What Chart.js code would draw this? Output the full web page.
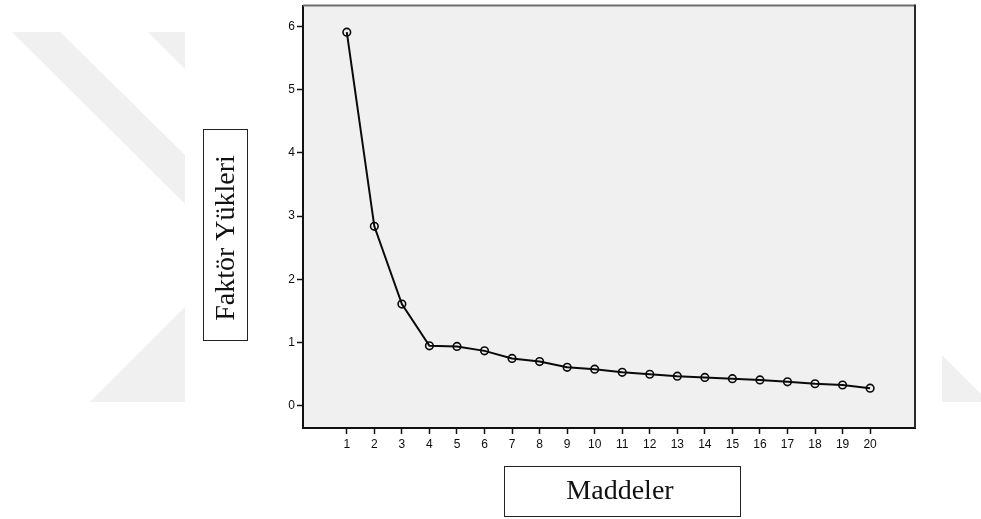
<!DOCTYPE html>
<html>
<head>
<meta charset="utf-8">
<script src="https://cdn.jsdelivr.net/npm/chart.js@4/dist/chart.umd.min.js"></script>
<style>
  html, body { margin: 0; padding: 0; background: #ffffff; }
  #wrap { width: 981px; height: 519px; position: relative; }
</style>
</head>
<body>
<div id="wrap"><canvas id="c" width="981" height="519"></canvas></div>
<script>
// ---- data ----
const items = [1, 2, 3, 4, 5, 6, 7, 8, 9, 10, 11, 12, 13, 14, 15, 16, 17, 18, 19, 20];
const loadings = [5.91, 2.84, 1.61, 0.95, 0.94, 0.87, 0.75, 0.70, 0.61, 0.58,
                  0.53, 0.50, 0.47, 0.45, 0.43, 0.41, 0.38, 0.35, 0.33, 0.28];
const xTickValues = [1, 2, 3, 4, 5, 6, 7, 8, 9, 10, 11, 12, 13, 14, 15, 16, 17, 18, 19, 20];
const yTickValues = [0, 1, 2, 3, 4, 5, 6];
const xTitle = "Maddeler";
const yTitle = "Faktör Yükleri";

const backdrop = {
  id: 'backdrop',
  beforeDraw(chart) {
    const ctx = chart.ctx;
    const a = chart.chartArea;
    ctx.save();
    ctx.fillStyle = '#ffffff';
    ctx.fillRect(0, 0, chart.width, chart.height);
    // faint watermark shapes
    ctx.fillStyle = '#f0f0f0';
    const polys = [
      [[12, 32], [60, 32], [185, 155], [185, 204]],
      [[148, 32], [185, 32], [185, 69]],
      [[90, 402], [185, 402], [185, 307]],
      [[942, 355], [981, 394], [981, 402], [942, 402]]
    ];
    polys.forEach(p => {
      ctx.beginPath();
      ctx.moveTo(p[0][0], p[0][1]);
      for (let i = 1; i < p.length; i++) ctx.lineTo(p[i][0], p[i][1]);
      ctx.closePath();
      ctx.fill();
    });
    // plot background
    ctx.fillStyle = '#f0f0f0';
    ctx.fillRect(a.left, a.top, a.right - a.left, a.bottom - a.top);
    ctx.restore();
  },
  afterDraw(chart) {
    const ctx = chart.ctx;
    const a = chart.chartArea;
    ctx.save();
    // top and right frame
    ctx.lineWidth = 2;
    ctx.strokeStyle = '#6e6e6e';
    ctx.beginPath();
    ctx.moveTo(a.left, a.top);
    ctx.lineTo(a.right, a.top);
    ctx.stroke();
    ctx.strokeStyle = '#2a2a2a';
    ctx.beginPath();
    ctx.moveTo(a.right, a.top - 1);
    ctx.lineTo(a.right, a.bottom);
    ctx.stroke();

    // axis title boxes
    ctx.lineWidth = 1;
    ctx.strokeStyle = '#222';
    ctx.fillStyle = '#ffffff';
    ctx.fillRect(203.5, 129.5, 44, 211);
    ctx.strokeRect(203.5, 129.5, 44, 211);
    ctx.fillRect(504.5, 466.5, 236, 50);
    ctx.strokeRect(504.5, 466.5, 236, 50);

    ctx.fillStyle = '#111';
    ctx.font = '28px "Liberation Serif", "Times New Roman", serif';
    ctx.textAlign = 'center';
    ctx.textBaseline = 'middle';
    ctx.fillText(xTitle, 620, 492);
    ctx.translate(227, 238);
    ctx.rotate(-Math.PI / 2);
    ctx.fillText(yTitle, 0, 0);
    ctx.restore();
  }
};

const tickFont = { family: '"Liberation Sans", Arial, sans-serif', size: 12 };

new Chart(document.getElementById('c'), {
  type: 'line',
  data: {
    datasets: [{
      data: items.map((x, i) => ({ x: x, y: loadings[i] })),
      borderColor: '#0a0a0a',
      borderWidth: 2,
      tension: 0,
      pointRadius: 3.8,
      pointBorderWidth: 1.6,
      pointBorderColor: '#0a0a0a',
      pointBackgroundColor: 'rgba(0,0,0,0)',
      fill: false
    }]
  },
  options: {
    responsive: false,
    animation: false,
    devicePixelRatio: 1,
    layout: { padding: { left: 0, right: 66, top: 5, bottom: 0 } },
    plugins: { legend: { display: false }, tooltip: { enabled: false }, title: { display: false } },
    scales: {
      x: {
        type: 'linear',
        min: -0.59,
        max: 21.63,
        afterBuildTicks(scale) { scale.ticks = xTickValues.map(v => ({ value: v })); },
        afterFit(scale) { scale.height = 91; scale.paddingLeft = 0; scale.paddingRight = 0; },
        ticks: { autoSkip: false, maxRotation: 0, font: tickFont, color: '#0d0d0d', padding: 3,
                 callback: v => String(v) },
        grid: { drawOnChartArea: false, drawTicks: true, tickLength: 6, tickWidth: 1.5, tickColor: '#111' },
        border: { display: true, color: '#111', width: 2 }
      },
      y: {
        type: 'linear',
        min: -0.35,
        max: 6.33,
        afterBuildTicks(scale) { scale.ticks = yTickValues.map(v => ({ value: v })); },
        afterFit(scale) { scale.width = 303; scale.paddingTop = 0; scale.paddingBottom = 0; },
        ticks: { font: tickFont, color: '#0d0d0d', padding: 2, callback: v => String(v) },
        grid: { drawOnChartArea: false, drawTicks: true, tickLength: 6, tickWidth: 1.5, tickColor: '#111' },
        border: { display: true, color: '#111', width: 2 }
      }
    }
  },
  plugins: [backdrop]
});
</script>
</body>
</html>
